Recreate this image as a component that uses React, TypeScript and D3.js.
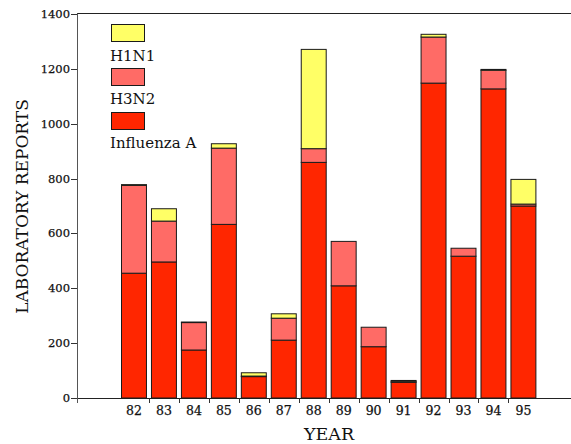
import React from "react";
import * as d3 from "d3";

const years = ["82", "83", "84", "85", "86", "87", "88", "89", "90", "91", "92", "93", "94", "95"];
const influenzaA = [455, 496, 175, 633, 78, 211, 859, 409, 187, 57, 1148, 517, 1127, 700];
const h3n2 = [320, 149, 100, 278, 2, 80, 50, 162, 71, 4, 168, 29, 68, 7];
const h1n1 = [3, 45, 2, 16, 12, 16, 362, 0, 0, 3, 10, 0, 3, 90];
const yTicks = [0, 200, 400, 600, 800, 1000, 1200, 1400];

const seriesNames = ["Influenza A", "H3N2", "H1N1"];
const seriesColors = ["#ff2600", "#ff6b66", "#ffff66"];

const W = 571;
const H = 444;
const FONT = "'DejaVu Serif', serif";

export default function App() {
  const y = d3.scaleLinear().domain([0, 1400]).range([398, 14]);
  const x = d3.scaleBand().domain(years).range([119, 538.4]).padding(0);
  const bw = x.bandwidth();
  const inset = 2.5;

  const rows = years.map((yr, i) => ({ year: yr, "Influenza A": influenzaA[i], H3N2: h3n2[i], H1N1: h1n1[i] }));
  const stack = d3.stack<any>().keys(seriesNames)(rows);

  const legend = [
    { name: "H1N1", color: seriesColors[2] },
    { name: "H3N2", color: seriesColors[1] },
    { name: "Influenza A", color: seriesColors[0] },
  ];

  return (
    <svg width={W} height={H} style={{ position: "absolute", left: 0, top: 0, background: "#fff" }}>
      {/* frame lines */}
      <line x1={77} x2={W} y1={13.5} y2={13.5} stroke="#222" strokeWidth={1} />
      <line x1={77} x2={W} y1={398.5} y2={398.5} stroke="#222" strokeWidth={1} />
      <line x1={77.5} x2={77.5} y1={13.5} y2={403} stroke="#555" strokeWidth={1} />

      {/* y ticks */}
      {yTicks.map((t) => (
        <g key={t}>
          <line x1={71} x2={77} y1={Math.round(y(t)) + 0.5} y2={Math.round(y(t)) + 0.5} stroke="#333" />
          <text x={70} y={y(t) + 4} textAnchor="end" fontFamily={FONT} fontSize={11.5} fill="#111" stroke="#111" strokeWidth={0.25}>
            {t}
          </text>
        </g>
      ))}

      {/* bars */}
      {stack.map((s, si) =>
        s.map((d, i) => {
          const v = d[1] - d[0];
          if (v <= 0) return null;
          const x0 = (x(years[i]) as number) + inset;
          return (
            <rect
              key={`${si}-${i}`}
              x={x0}
              y={y(d[1])}
              width={bw - 2 * inset}
              height={y(d[0]) - y(d[1])}
              fill={seriesColors[si]}
              stroke="#1a1a1a"
              strokeWidth={1}
            />
          );
        })
      )}

      {/* x ticks between bars */}
      {years.slice(1).map((yr) => {
        const xx = Math.round(x(yr) as number) + 0.5;
        return <line key={yr} x1={xx} x2={xx} y1={398} y2={403} stroke="#333" />;
      })}

      {/* x labels */}
      {years.map((yr) => (
        <text
          key={yr}
          x={(x(yr) as number) + bw / 2}
          y={415}
          textAnchor="middle"
          fontFamily={FONT}
          fontSize={12.5}
          fill="#111"
          stroke="#111"
          strokeWidth={0.25}
        >
          {yr}
        </text>
      ))}

      {/* axis titles */}
      <text x={329} y={440} textAnchor="middle" fontFamily={FONT} fontSize={17.5} fill="#111">
        YEAR
      </text>
      <text
        transform="translate(28,206.5) rotate(-90)"
        textAnchor="middle"
        fontFamily={FONT}
        fontSize={17}
        fill="#111"
      >
        LABORATORY REPORTS
      </text>

      {/* legend */}
      {legend.map((l, i) => (
        <g key={l.name}>
          <rect x={111.5} y={24.5 + i * 44} width={33} height={17} fill={l.color} stroke="#1a1a1a" />
          <text x={110} y={61 + i * 43.3} fontFamily={FONT} fontSize={15} fill="#111">
            {l.name}
          </text>
        </g>
      ))}
    </svg>
  );
}
